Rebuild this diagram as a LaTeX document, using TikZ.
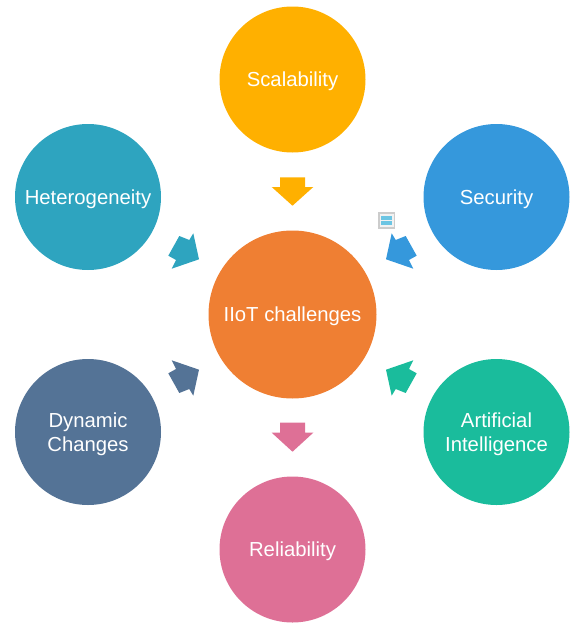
\documentclass[tikz,border=0pt]{standalone}
\usepackage{fontspec}
\setmainfont{Liberation Sans}
\definecolor{cScal}{HTML}{FFB000}
\definecolor{cHet}{HTML}{2EA4BF}
\definecolor{cSec}{HTML}{3598DC}
\definecolor{cIiot}{HTML}{EF7F33}
\definecolor{cDyn}{HTML}{547396}
\definecolor{cAI}{HTML}{1ABC9C}
\definecolor{cRel}{HTML}{DE7096}
\definecolor{cIcon}{HTML}{6CC5E3}
\tikzset{
  bub/.style={circle,minimum size=146pt,inner sep=0pt},
  bigbub/.style={bub,minimum size=168pt},
  lab/.style={text=white,align=center,font=\fontsize{20.3}{24}\selectfont}
}
\begin{document}
\begin{tikzpicture}[x=1pt,y=-1pt]
\useasboundingbox (0,0) rectangle (578,624);
\node[bub,fill=cScal] (scal) at (292.5,79.5) {};
\node[bub,fill=cHet] (het) at (88,197) {};
\node[bub,fill=cSec] (sec) at (496.5,197) {};
\node[bigbub,fill=cIiot] (iiot) at (292.5,314.5) {};
\node[bub,fill=cDyn] (dyn) at (88,432) {};
\node[bub,fill=cAI] (ai) at (496.5,432) {};
\node[bub,fill=cRel] (rel) at (292.5,549.5) {};
\node[lab] (tscal) at (292.5,81.5) {Scalability};
\node[lab] (thet) at (88,199) {Heterogeneity};
\node[lab] (tsec) at (496.5,199) {Security};
\node[lab] (tiiot) at (292.5,316.5) {IIoT challenges};
\node[lab] (tdyn) at (88,434) {Dynamic\\Changes};
\node[lab] (tai) at (496.5,434) {Artificial\\Intelligence};
\node[lab] (trel) at (292.5,551.5) {Reliability};
% block arrows
\fill[cScal] (280,177.3) -- (305,177.3) -- (305,187) -- (313.3,187) -- (292.5,205.7) -- (271.7,187) -- (280,187) -- cycle;
\fill[cRel] (280,422.7) -- (305,422.7) -- (305,432.7) -- (313.3,432.7) -- (292.5,451.7) -- (271.7,432.7) -- (280,432.7) -- cycle;
\fill[cHet] (199,259.3) -- (193.3,233.3) -- (189.3,240) -- (179.3,236) -- (168.3,255.7) -- (176,260) -- (171.7,268.7) -- cycle;
\fill[cSec] (386,259.3) -- (391.7,233.3) -- (395.7,240) -- (405.7,236) -- (416.7,255.7) -- (409,260) -- (413.3,268.7) -- cycle;
\fill[cDyn] (199,369.7) -- (193.3,395.7) -- (189.3,389) -- (179.3,393) -- (168.3,373.3) -- (176,369) -- (171.7,360.3) -- cycle;
\fill[cAI] (386,369.7) -- (391.7,395.7) -- (395.7,389) -- (405.7,393) -- (416.7,373.3) -- (409,369) -- (413.3,360.3) -- cycle;
% small icon
\fill[black!20] (378.3,212.3) rectangle (395,229);
\fill[black!5] (379.8,213.8) rectangle (393.5,227);
\fill[cIcon] (381.3,215.5) rectangle (392,219.5);
\fill[cIcon] (381.3,220.5) rectangle (392,225);
\end{tikzpicture}
\end{document}
